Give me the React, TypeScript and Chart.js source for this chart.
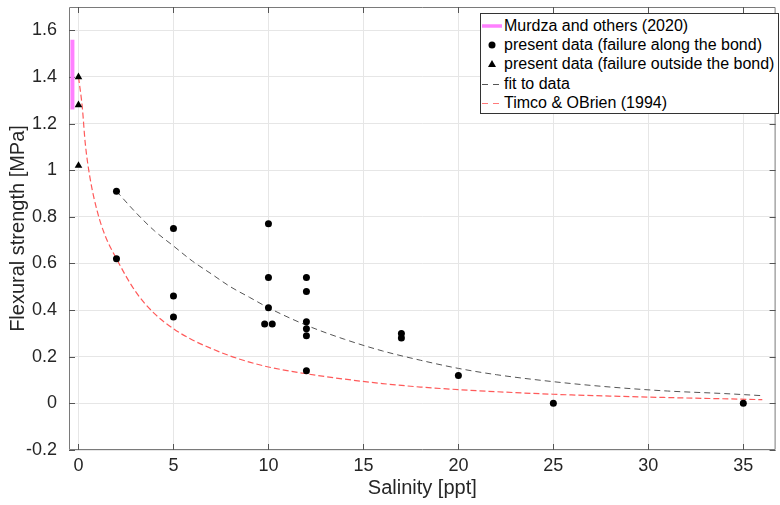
import React, { useEffect, useRef } from "react";
import { Chart, registerables } from "chart.js";

Chart.register(...registerables);

// ---- data ----
const xTickValues = [0, 5, 10, 15, 20, 25, 30, 35];
const yTickValues = [-0.2, 0, 0.2, 0.4, 0.6, 0.8, 1, 1.2, 1.4, 1.6];

const murdzaX = [-0.32, -0.32];
const murdzaY = [1.26, 1.56];

const bondX = [2, 2, 5, 5, 5, 10, 10, 10, 9.8, 10.2, 12, 12, 12, 12, 12, 12, 17, 17, 20, 25, 35];
const bondY = [0.91, 0.62, 0.75, 0.46, 0.37, 0.77, 0.54, 0.41, 0.34, 0.34, 0.54, 0.48, 0.35, 0.32, 0.29, 0.14, 0.30, 0.28, 0.12, 0.0, 0.0];

const outsideX = [0, 0, 0];
const outsideY = [1.40, 1.28, 1.02];

const fitX = [2, 3, 4, 5, 6, 7, 8, 9, 10, 12, 14, 16, 18, 20, 22, 25, 28, 31, 34, 36];
const fitY = [0.91, 0.82, 0.74, 0.675, 0.61, 0.555, 0.50, 0.455, 0.41, 0.335, 0.275, 0.225, 0.185, 0.15, 0.123, 0.093, 0.07, 0.053, 0.042, 0.033];

const timcoX = [0, 0.2, 0.35, 0.6, 1, 1.4, 2, 3, 4, 5, 6, 7, 8, 9, 10, 12, 14, 16, 18, 20, 22, 25, 30, 36];
const timcoY = [1.40, 1.27, 1.12, 0.97, 0.82, 0.72, 0.62, 0.48, 0.385, 0.32, 0.272, 0.235, 0.203, 0.177, 0.156, 0.127, 0.104, 0.085, 0.07, 0.059, 0.05, 0.039, 0.027, 0.016];

const legendLabels = [
  "Murdza and others (2020)",
  "present data (failure along the bond)",
  "present data (failure outside the bond)",
  "fit to data",
  "Timco & OBrien (1994)",
];

const FONT = '"Liberation Sans", Arial, Helvetica, sans-serif';
const TEXT = "#262626";

const toPts = (xs: number[], ys: number[]) => xs.map((x, i) => ({ x, y: ys[i] }));

const fmt = (v: number) => String(Number(v.toFixed(2)));

const framePlugin = {
  id: "frame",
  beforeDatasetsDraw(chart: any) {
    const { ctx, chartArea, scales } = chart;
    const { left, right, top, bottom } = chartArea;
    const xs = scales.x;
    const ys = scales.y;
    ctx.save();
    ctx.strokeStyle = "#7a7a7a";
    ctx.lineWidth = 1;
    ctx.beginPath();
    ctx.rect(left + 0.5, top + 0.5, right - left - 1, bottom - top - 1);
    ctx.stroke();
    ctx.strokeStyle = "#555";
    ctx.beginPath();
    const tl = 6;
    xTickValues.forEach((v) => {
      const px = Math.round(xs.getPixelForValue(v)) + 0.5;
      ctx.moveTo(px, bottom);
      ctx.lineTo(px, bottom - tl);
      ctx.moveTo(px, top);
      ctx.lineTo(px, top + tl);
    });
    yTickValues.forEach((v) => {
      const py = Math.round(ys.getPixelForValue(v)) + 0.5;
      ctx.moveTo(left, py);
      ctx.lineTo(left + tl, py);
      ctx.moveTo(right, py);
      ctx.lineTo(right - tl, py);
    });
    ctx.stroke();
    ctx.restore();
  },
};

function LegendIcon({ kind }: { kind: number }) {
  if (kind === 0)
    return (
      <svg width="22" height="20">
        <line x1="1" y1="10" x2="21" y2="10" stroke="#ff80ff" strokeWidth="3.5" />
      </svg>
    );
  if (kind === 1)
    return (
      <svg width="22" height="20">
        <circle cx="11" cy="10" r="3.5" fill="#000" />
      </svg>
    );
  if (kind === 2)
    return (
      <svg width="22" height="20">
        <polygon points="11,6 15,13 7,13" fill="#000" />
      </svg>
    );
  const col = kind === 3 ? "#555" : "#ff7a7a";
  return (
    <svg width="22" height="20">
      <line x1="1" y1="10.5" x2="21" y2="10.5" stroke={col} strokeWidth="1.2" strokeDasharray="6 5" />
    </svg>
  );
}

export default function App() {
  const ref = useRef<HTMLCanvasElement | null>(null);

  useEffect(() => {
    if (!ref.current) return;
    const chart = new Chart(ref.current, {
      type: "scatter",
      data: {
        datasets: [
          {
            label: legendLabels[1],
            data: toPts(bondX, bondY),
            pointStyle: "circle",
            pointRadius: 3.5,
            backgroundColor: "#000",
            borderColor: "#000",
            borderWidth: 0,
          },
          {
            label: legendLabels[2],
            data: toPts(outsideX, outsideY),
            pointStyle: "triangle",
            pointRadius: 4.4,
            backgroundColor: "#000",
            borderColor: "#000",
            borderWidth: 0,
          },
          {
            label: legendLabels[0],
            data: toPts(murdzaX, murdzaY),
            showLine: true,
            pointRadius: 0,
            borderColor: "#ff80ff",
            borderWidth: 4,
          },
          {
            label: legendLabels[3],
            data: toPts(fitX, fitY),
            showLine: true,
            pointRadius: 0,
            borderColor: "#555555",
            borderWidth: 1,
            borderDash: [6, 4],
            cubicInterpolationMode: "monotone",
          },
          {
            label: legendLabels[4],
            data: toPts(timcoX, timcoY),
            showLine: true,
            pointRadius: 0,
            borderColor: "#ff5a5a",
            borderWidth: 1.2,
            borderDash: [6, 3],
            cubicInterpolationMode: "monotone",
          },
        ],
      },
      options: {
        animation: false,
        responsive: false,
        devicePixelRatio: 1,
        layout: { padding: { top: 7, right: 1, left: 0, bottom: 0 } },
        plugins: {
          legend: { display: false },
          tooltip: { enabled: false },
        },
        scales: {
          x: {
            type: "linear",
            min: -0.5,
            max: 36.7,
            afterBuildTicks: (s: any) => {
              s.ticks = xTickValues.map((value) => ({ value }));
            },
            afterFit: (s: any) => {
              s.height = 55;
              s.paddingLeft = 0;
              s.paddingRight = 0;
            },
            grid: { color: "#e6e6e6", drawTicks: false, tickLength: 0 },
            border: { display: false },
            ticks: {
              padding: 5,
              color: TEXT,
              font: { family: FONT, size: 18 },
              maxRotation: 0,
              autoSkip: false,
              callback: (v: any) => fmt(Number(v)),
            },
            title: {
              display: true,
              text: "Salinity [ppt]",
              color: TEXT,
              font: { family: FONT, size: 20 },
              padding: { top: 0, bottom: 5 },
            },
          },
          y: {
            type: "linear",
            min: -0.2,
            max: 1.7,
            afterBuildTicks: (s: any) => {
              s.ticks = yTickValues.map((value) => ({ value }));
            },
            afterFit: (s: any) => {
              s.width = 69;
              s.paddingTop = 0;
              s.paddingBottom = 0;
            },
            grid: { color: "#e6e6e6", drawTicks: false, tickLength: 0 },
            border: { display: false },
            ticks: {
              padding: 12,
              color: TEXT,
              font: { family: FONT, size: 18 },
              autoSkip: false,
              callback: (v: any) => fmt(Number(v)),
            },
            title: {
              display: true,
              text: "Flexural strength [MPa]",
              color: TEXT,
              font: { family: FONT, size: 20 },
              padding: { top: 6, bottom: 0 },
            },
          },
        },
      },
      plugins: [framePlugin],
    } as any);
    return () => chart.destroy();
  }, []);

  const rowH = 19.3;
  return (
    <div style={{ position: "fixed", left: 0, top: 0, width: 780, height: 505, background: "#fff" }}>
      <canvas ref={ref} width={780} height={505} style={{ display: "block" }} />
      <div
        style={{
          position: "absolute",
          left: 480,
          top: 13,
          width: 297,
          height: 99,
          border: "1px solid #333",
          background: "#fff",
          fontFamily: FONT,
          fontSize: 16,
          color: "#000",
        }}
      >
        {legendLabels.map((label, i) => (
          <div
            key={i}
            style={{
              position: "absolute",
              left: 0,
              top: 1.7 + i * rowH,
              height: 20,
              lineHeight: "20px",
              whiteSpace: "nowrap",
            }}
          >
            <span style={{ position: "absolute", left: 0, top: 0 }}>
              <LegendIcon kind={i} />
            </span>
            <span style={{ position: "absolute", left: 23, top: 0 }}>{label}</span>
          </div>
        ))}
      </div>
    </div>
  );
}
